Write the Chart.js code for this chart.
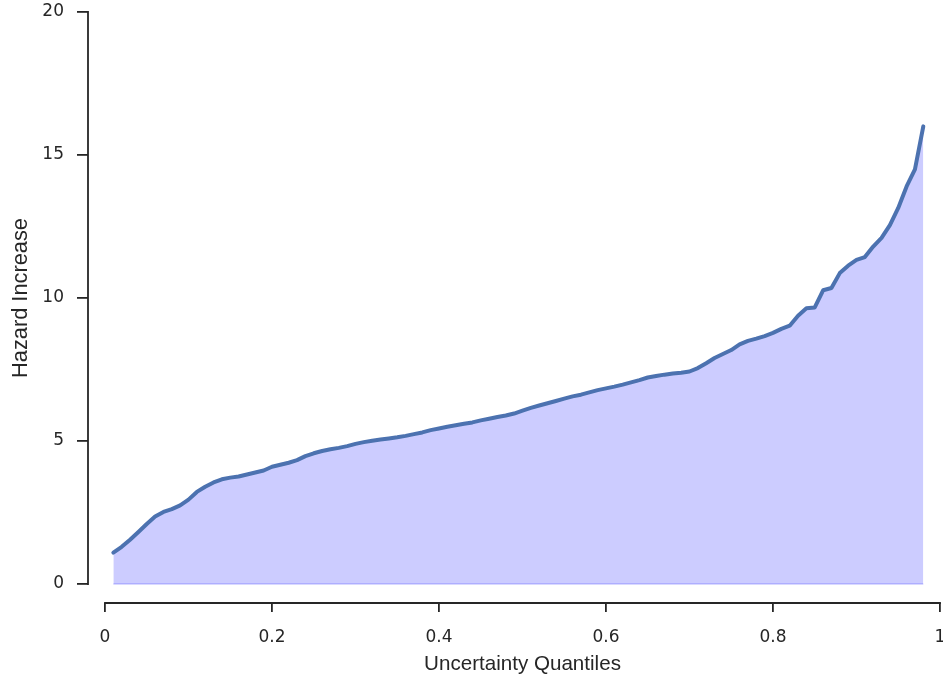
<!DOCTYPE html>
<html>
<head>
<meta charset="utf-8">
<script src="https://cdn.jsdelivr.net/npm/chart.js@4/dist/chart.umd.min.js"></script>
<style>
  html, body { margin: 0; padding: 0; background: #ffffff; overflow: hidden; }
  #wrap { width: 943px; height: 681px; overflow: hidden; }
  canvas { display: block; }
</style>
</head>
<body>
<div id="wrap"><canvas id="c" width="960" height="681"></canvas></div>
<script>
// Uncertainty quantiles (0.01 .. 0.98)
const quantiles = [
  0.01, 0.02, 0.03, 0.04, 0.05, 0.06, 0.07, 0.08, 0.09, 0.10,
  0.11, 0.12, 0.13, 0.14, 0.15, 0.16, 0.17, 0.18, 0.19, 0.20,
  0.21, 0.22, 0.23, 0.24, 0.25, 0.26, 0.27, 0.28, 0.29, 0.30,
  0.31, 0.32, 0.33, 0.34, 0.35, 0.36, 0.37, 0.38, 0.39, 0.40,
  0.41, 0.42, 0.43, 0.44, 0.45, 0.46, 0.47, 0.48, 0.49, 0.50,
  0.51, 0.52, 0.53, 0.54, 0.55, 0.56, 0.57, 0.58, 0.59, 0.60,
  0.61, 0.62, 0.63, 0.64, 0.65, 0.66, 0.67, 0.68, 0.69, 0.70,
  0.71, 0.72, 0.73, 0.74, 0.75, 0.76, 0.77, 0.78, 0.79, 0.80,
  0.81, 0.82, 0.83, 0.84, 0.85, 0.86, 0.87, 0.88, 0.89, 0.90,
  0.91, 0.92, 0.93, 0.94, 0.95, 0.96, 0.97, 0.98
];

// Hazard increase at each quantile
const hazardIncrease = [
  1.10, 1.30, 1.55, 1.82, 2.10, 2.36, 2.52, 2.62, 2.75, 2.95,
  3.22, 3.40, 3.55, 3.66, 3.72, 3.76, 3.83, 3.90, 3.97, 4.10,
  4.17, 4.24, 4.33, 4.47, 4.57, 4.65, 4.71, 4.76, 4.82, 4.90,
  4.96, 5.01, 5.05, 5.09, 5.13, 5.18, 5.24, 5.30, 5.38, 5.44,
  5.50, 5.55, 5.60, 5.65, 5.72, 5.78, 5.84, 5.89, 5.96, 6.06,
  6.16, 6.24, 6.32, 6.40, 6.48, 6.56, 6.62, 6.70, 6.78, 6.84,
  6.90, 6.97, 7.05, 7.13, 7.22, 7.27, 7.32, 7.36, 7.39, 7.43,
  7.55, 7.72, 7.90, 8.04, 8.18, 8.38, 8.50, 8.58, 8.67, 8.78,
  8.92, 9.03, 9.38, 9.64, 9.67, 10.27, 10.35, 10.87, 11.13, 11.33,
  11.43, 11.80, 12.10, 12.55, 13.15, 13.90, 14.50, 16.00
];

// Zero baseline under the filled area
const baseline = quantiles.map(() => 0);

const xTicks = [0, 0.2, 0.4, 0.6, 0.8, 1];
const xTickLabels = ['0', '0.2', '0.4', '0.6', '0.8', '1'];
const yTicks = [0, 5, 10, 15, 20];
const yTickLabels = ['0', '5', '10', '15', '20'];

const INK = '#262626';
const tickFont = { family: 'DejaVu Sans', size: 17 };

// Trimmed axis spines: each spine spans only its first..last tick
const trimmedSpines = {
  id: 'trimmedSpines',
  afterDraw(chart) {
    const { ctx, chartArea, scales } = chart;
    const x = scales.x, y = scales.y;
    ctx.save();
    ctx.strokeStyle = INK;
    ctx.lineWidth = 1.8;
    ctx.lineCap = 'butt';
    ctx.beginPath();
    ctx.moveTo(chartArea.left, y.getPixelForValue(yTicks[0]) + 0.9);
    ctx.lineTo(chartArea.left, y.getPixelForValue(yTicks[yTicks.length - 1]) - 0.9);
    ctx.moveTo(x.getPixelForValue(xTicks[0]) - 0.9, chartArea.bottom);
    ctx.lineTo(x.getPixelForValue(xTicks[xTicks.length - 1]) + 0.9, chartArea.bottom);
    ctx.stroke();
    ctx.restore();
  }
};

// Centre each axis title on its trimmed spine rather than on the whole plot side
const spineCenteredTitles = {
  id: 'spineCenteredTitles',
  beforeDraw(chart) {
    const x = chart.scales.x, y = chart.scales.y;
    if (!x._spineTitle) {
      const drawX = x.drawTitle;
      x.drawTitle = function () {
        const l = this.left, r = this.right;
        this.left = this.getPixelForValue(xTicks[0]);
        this.right = this.getPixelForValue(xTicks[xTicks.length - 1]);
        drawX.call(this);
        this.left = l; this.right = r;
      };
      x._spineTitle = true;
    }
    if (!y._spineTitle) {
      const drawY = y.drawTitle;
      y.drawTitle = function () {
        const t = this.top, b = this.bottom;
        this.top = this.getPixelForValue(yTicks[yTicks.length - 1]);
        this.bottom = this.getPixelForValue(yTicks[0]);
        drawY.call(this);
        this.top = t; this.bottom = b;
      };
      y._spineTitle = true;
    }
  }
};

new Chart(document.getElementById('c'), {
  type: 'line',
  data: {
    datasets: [
      {
        data: quantiles.map((q, i) => ({ x: q, y: hazardIncrease[i] })),
        borderColor: '#4c72b0',
        borderWidth: 4,
        backgroundColor: 'rgba(0, 0, 255, 0.2)',
        fill: 'origin',
        pointRadius: 0,
        tension: 0,
        borderJoinStyle: 'round',
        borderCapStyle: 'round',
        order: 0
      },
      {
        data: quantiles.map((q, i) => ({ x: q, y: baseline[i] })),
        borderColor: 'rgba(0, 0, 255, 0.2)',
        borderWidth: 1.5,
        fill: false,
        pointRadius: 0,
        order: 1
      }
    ]
  },
  options: {
    responsive: false,
    animation: false,
    devicePixelRatio: 1,
    layout: { padding: { left: 0, right: 20, top: 12, bottom: 0 } },
    plugins: { legend: { display: false }, tooltip: { enabled: false } },
    scales: {
      x: {
        type: 'linear',
        min: -17 / 835,
        max: 1,
        afterBuildTicks: (s) => { s.ticks = xTicks.map(v => ({ value: v })); },
        afterFit: (s) => { s.height = 78; s.paddingLeft = 0; s.paddingRight = 0; },
        border: { display: false },
        grid: { drawOnChartArea: false, drawTicks: true, tickLength: 9, color: INK, lineWidth: 1.8 },
        ticks: {
          color: INK, font: tickFont, padding: 15, maxRotation: 0, autoSkip: false,
          callback: (v, i) => xTickLabels[i]
        },
        title: {
          display: true, text: 'Uncertainty Quantiles', color: INK,
          font: { family: 'Liberation Sans', size: 20.6 }, padding: { top: 0, bottom: 4 }
        }
      },
      y: {
        type: 'linear',
        min: -19 / 28.6,
        max: 20,
        afterBuildTicks: (s) => { s.ticks = yTicks.map(v => ({ value: v })); },
        afterFit: (s) => { s.width = 88; s.paddingTop = 0; s.paddingBottom = 0; },
        border: { display: false },
        grid: { drawOnChartArea: false, drawTicks: true, tickLength: 11, color: INK, lineWidth: 1.8 },
        ticks: {
          color: INK, font: tickFont, padding: 13, autoSkip: false,
          callback: (v, i) => yTickLabels[i]
        },
        title: {
          display: true, text: 'Hazard Increase', color: INK,
          font: { family: 'Liberation Sans', size: 21.8 }, padding: { top: 8, bottom: 0 }
        }
      }
    }
  },
  plugins: [trimmedSpines, spineCenteredTitles]
});
</script>
</body>
</html>
